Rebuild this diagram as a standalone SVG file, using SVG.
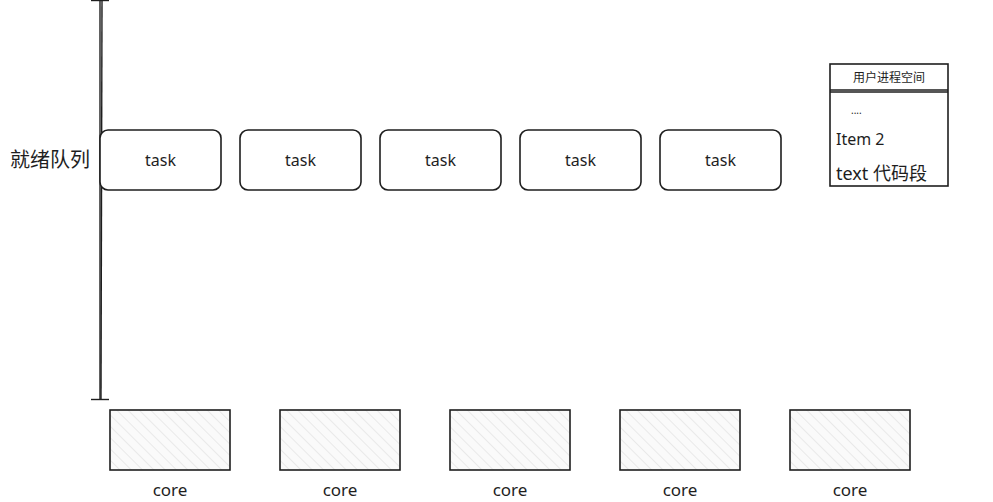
<svg xmlns="http://www.w3.org/2000/svg" width="993" height="502" viewBox="0 0 993 502">
<style>
.t{font-family:"Noto Sans","Noto Sans CJK SC",sans-serif;fill:#1e1e1e}
.task{fill:#fff;stroke:#1e1e1e;stroke-width:1.6}
.core{fill:url(#hatch);stroke:#1e1e1e;stroke-width:1.6}
.ln{stroke:#1e1e1e;stroke-width:1.4;fill:none}
</style>
<defs>
<pattern id="hatch" width="8" height="8" patternUnits="userSpaceOnUse" patternTransform="rotate(-45)">
<rect width="8" height="8" fill="#fafafa"/>
<line x1="0" y1="0" x2="0" y2="8" stroke="#e4e4e4" stroke-width="1.5"/>
</pattern>
</defs>
<rect width="993" height="502" fill="#fff"/>
<g id="connectors">
<line class="ln" x1="100" y1="0" x2="100" y2="400"/>
<line class="ln" x1="102" y1="0" x2="101" y2="400"/>
<line class="ln" x1="91" y1="0.5" x2="109" y2="0.5"/>
<line class="ln" x1="91" y1="399.5" x2="109" y2="399.5"/>
</g>
<text class="t" x="10" y="167" font-size="20">就绪队列</text>
<g id="task1"><rect class="task" x="100" y="130" width="121" height="60" rx="8"/><text class="t" x="160.5" y="166" font-size="16" text-anchor="middle">task</text></g>
<g id="task2"><rect class="task" x="240" y="130" width="121" height="60" rx="8"/><text class="t" x="300.5" y="166" font-size="16" text-anchor="middle">task</text></g>
<g id="task3"><rect class="task" x="380" y="130" width="121" height="60" rx="8"/><text class="t" x="440.5" y="166" font-size="16" text-anchor="middle">task</text></g>
<g id="task4"><rect class="task" x="520" y="130" width="121" height="60" rx="8"/><text class="t" x="580.5" y="166" font-size="16" text-anchor="middle">task</text></g>
<g id="task5"><rect class="task" x="660" y="130" width="121" height="60" rx="8"/><text class="t" x="720.5" y="166" font-size="16" text-anchor="middle">task</text></g>
<g id="core1"><rect class="core" x="110" y="410" width="120" height="60"/><text class="t" x="170" y="496" font-size="17" text-anchor="middle">core</text></g>
<g id="core2"><rect class="core" x="280" y="410" width="120" height="60"/><text class="t" x="340" y="496" font-size="17" text-anchor="middle">core</text></g>
<g id="core3"><rect class="core" x="450" y="410" width="120" height="60"/><text class="t" x="510" y="496" font-size="17" text-anchor="middle">core</text></g>
<g id="core4"><rect class="core" x="620" y="410" width="120" height="60"/><text class="t" x="680" y="496" font-size="17" text-anchor="middle">core</text></g>
<g id="core5"><rect class="core" x="790" y="410" width="120" height="60"/><text class="t" x="850" y="496" font-size="17" text-anchor="middle">core</text></g>
<g id="panel">
<rect class="task" x="830" y="64" width="118" height="122"/>
<line class="ln" x1="830" y1="90" x2="948" y2="90"/>
<line class="ln" x1="830" y1="92" x2="948" y2="92"/>
<text class="t" x="889" y="82" font-size="12" text-anchor="middle">用户进程空间</text>
<text class="t" x="851" y="114" font-size="10">....</text>
<text class="t" x="836" y="145" font-size="16">Item 2</text>
<text class="t" x="836" y="180" font-size="18">text 代码段</text>
</g>
</svg>
